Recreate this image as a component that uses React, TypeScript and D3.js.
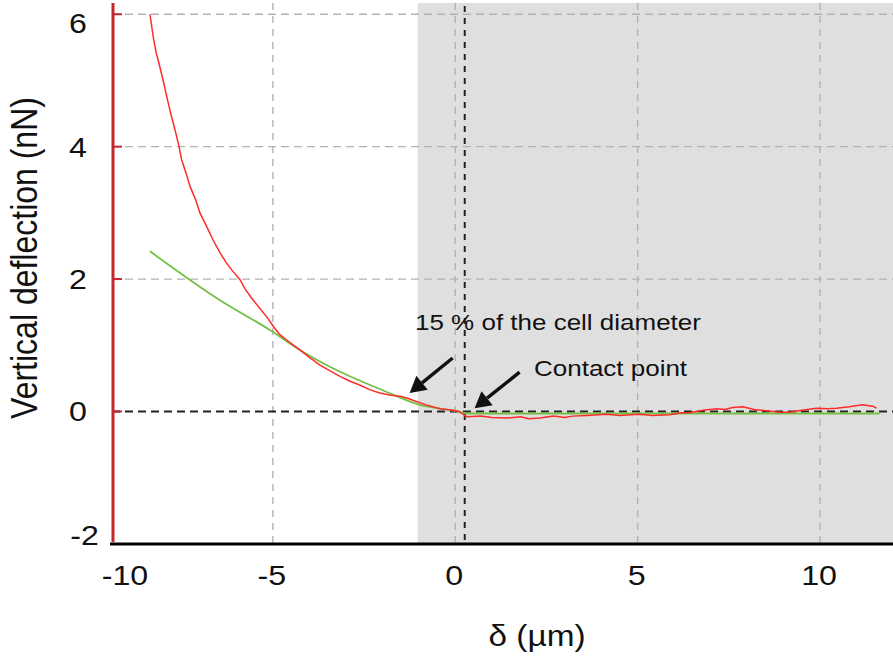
import React from "react";
import * as d3 from "d3";

const redX = [-8.37,-8.33,-8.28,-8.20,-8.10,-8.00,-7.91,-7.80,-7.68,-7.58,-7.50,-7.38,-7.27,-7.12,-7.00,-6.82,-6.64,-6.45,-6.27,-6.10,-5.90,-5.75,-5.58,-5.36,-5.14,-4.98,-4.81,-4.55,-4.26,-3.98,-3.71,-3.42,-3.16,-2.90,-2.62,-2.35,-2.07,-1.80,-1.52,-1.30,-1.16,-0.80,-0.42,-0.07,0.10,0.32,0.70,1.00,1.41,1.80,2.00,2.32,2.70,3.00,3.22,3.60,4.15,4.50,5.05,5.40,5.88,6.20,6.42,6.80,7.16,7.40,7.60,7.88,8.20,8.53,8.90,9.16,9.50,9.90,10.20,10.45,10.80,11.16,11.44,11.55];
const redY = [6.00,5.85,5.66,5.42,5.21,4.98,4.76,4.50,4.25,4.02,3.80,3.60,3.40,3.20,3.00,2.80,2.59,2.40,2.24,2.12,1.99,1.84,1.71,1.56,1.41,1.28,1.16,1.05,0.93,0.81,0.70,0.61,0.53,0.46,0.40,0.33,0.28,0.25,0.23,0.20,0.17,0.10,0.04,0.02,0.00,-0.08,-0.07,-0.09,-0.10,-0.08,-0.11,-0.10,-0.07,-0.09,-0.07,-0.06,-0.04,-0.06,-0.04,-0.06,-0.05,-0.02,-0.02,0.02,0.04,0.03,0.06,0.07,0.03,0.01,-0.01,-0.01,0.02,0.05,0.04,0.05,0.07,0.10,0.08,0.05];

const greenX = [-8.37,-6.45,-5.08,-4.26,-3.16,-2.07,-0.97,-0.01,0.32,11.63];
const greenY = [2.42,1.68,1.23,0.93,0.60,0.34,0.10,0.01,-0.03,-0.03];

const xTicks = [-10, -5, 0, 5, 10];
const yTicks = [-2, 0, 2, 4, 6];
const xGrid = [-5, 0, 5, 10];
const yGrid = [2, 4, 6];

const shadeStart = -1.03;
const contactX = 0.26;
const annot15 = { x: -1.25, y: 0.28, label: "15 % of the cell diameter" };
const annotCP = { x: 0.53, y: 0.05, label: "Contact point" };

const W = 893, H = 657;
const FONT = "'Liberation Sans', Arial, Helvetica, sans-serif";
const SX = 1.15;

export default function App() {
  const x = d3.scaleLinear().domain([-9.41, 12.0]).range([112, 893]);
  const y = d3.scaleLinear().domain([-2, 6.17]).range([543.9, 3]);
  const [x0, x1] = x.range();
  const yBot = y(-2);
  const yTop = y.range()[1];

  const red = d3.line<number>().x((_, i) => x(redX[i])).y((_, i) => y(redY[i]));
  const green = d3.line<number>().x((_, i) => x(greenX[i])).y((_, i) => y(greenY[i])).curve(d3.curveMonotoneX);

  const arrow = (tx: number, ty: number, dx: number, dy: number) => {
    const len = Math.hypot(dx, dy);
    const ux = dx / len, uy = dy / len;
    const hl = 16, hw = 9;
    const bx = tx + ux * hl, by = ty + uy * hl;
    const px = -uy, py = ux;
    return (
      <g>
        <line x1={tx + dx} y1={ty + dy} x2={bx} y2={by} stroke="#111" strokeWidth={3.4} />
        <polygon points={`${tx},${ty} ${bx + px * hw},${by + py * hw} ${bx - px * hw},${by - py * hw}`} fill="#111" />
      </g>
    );
  };

  return (
    <svg width={W} height={H} style={{ position: "absolute", left: 0, top: 0, background: "#fff" }} fontFamily={FONT}>
      <rect x={x(shadeStart)} y={yTop} width={x1 - x(shadeStart)} height={yBot - yTop} fill="#e0dfdf" />
      {xGrid.map((v) => (
        <line key={"gx" + v} x1={x(v)} x2={x(v)} y1={yTop} y2={yBot} stroke="#b3b3b3" strokeWidth={1.4} strokeDasharray="7,6" />
      ))}
      {yGrid.map((v) => (
        <line key={"gy" + v} x1={x0} x2={x1} y1={y(v)} y2={y(v)} stroke="#b3b3b3" strokeWidth={1.4} strokeDasharray="8,5" />
      ))}
      <line x1={x0} x2={x1} y1={y(0)} y2={y(0)} stroke="#222" strokeWidth={2} strokeDasharray="8,5" />
      <line x1={x(contactX)} x2={x(contactX)} y1={yTop + 3} y2={yBot} stroke="#222" strokeWidth={2} strokeDasharray="6,6" />
      <path d={green(greenX) || ""} fill="none" stroke="#74c043" strokeWidth={1.8} />
      <path d={red(redX) || ""} fill="none" stroke="#ff2a2a" strokeWidth={1.5} />
      <line x1={x0 - 2} x2={x1} y1={yBot} y2={yBot} stroke="#000" strokeWidth={3} />
      <line x1={x0 + 1} x2={x0 + 1} y1={yTop} y2={yBot - 2} stroke="#c1272d" strokeWidth={3} />
      {yTicks.filter((v) => v > -2).map((v) => (
        <line key={"yt" + v} x1={x0 + 1} x2={x0 + 10} y1={y(v)} y2={y(v)} stroke="#c1272d" strokeWidth={2} />
      ))}
      {yTicks.map((v) => {
        let ty = y(v) + 10;
        let tx = 87;
        if (v === 6) ty = y(v) + 19;
        if (v === -2) { ty = yBot + 1; tx = 99; }
        return (
          <text key={"yl" + v} transform={`translate(${tx},${ty}) scale(${SX},1)`} textAnchor="end" fontSize={28} fill="#111">
            {v}
          </text>
        );
      })}
      {xTicks.map((v) => {
        const tx = v === -10 ? x0 + 13 : x(v) - 1;
        return (
          <text key={"xl" + v} transform={`translate(${tx},${585}) scale(${SX},1)`} textAnchor="middle" fontSize={28} fill="#111">
            {v}
          </text>
        );
      })}
      <text transform={`translate(${537},${646}) scale(${SX},1)`} textAnchor="middle" fontSize={29} fill="#111">δ (µm)</text>
      <text transform={`translate(${37},${258}) scale(${SX},1) rotate(-90)`} textAnchor="middle" fontSize={32} fill="#111">Vertical deflection (nN)</text>
      <text transform={`translate(${415},${330}) scale(${SX},1)`} fontSize={22.6} fill="#111">{annot15.label}</text>
      <text transform={`translate(${534},${376}) scale(${SX},1)`} fontSize={22.6} fill="#111">{annotCP.label}</text>
      {arrow(x(annot15.x), y(annot15.y), 43, -35)}
      {arrow(x(annotCP.x), y(annotCP.y), 45, -36)}
    </svg>
  );
}
